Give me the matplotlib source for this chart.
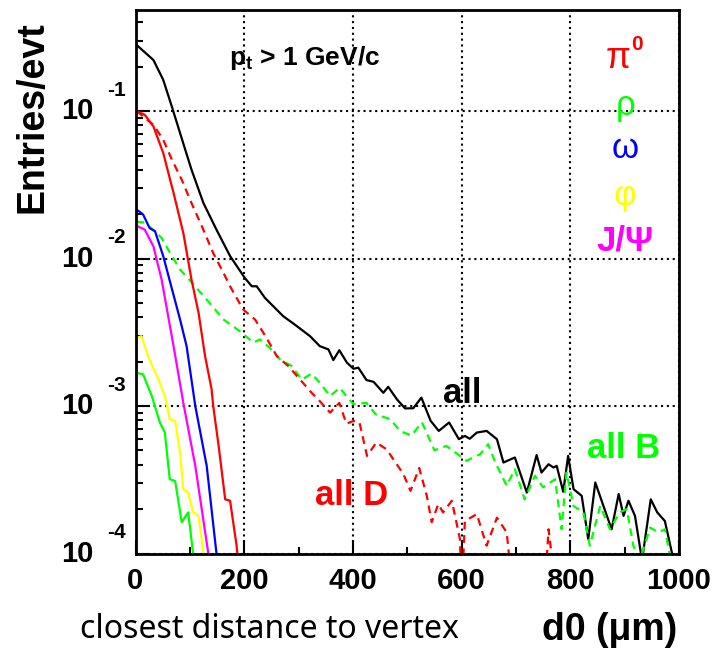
import matplotlib
matplotlib.use('Agg')
import matplotlib.pyplot as plt
import matplotlib.transforms as mtransforms
from matplotlib.ticker import FixedLocator, MultipleLocator, NullFormatter, LogLocator

# ---- data (d0 in um, entries/evt) ----
all_x = [2, 33, 51, 67, 82, 103, 125, 149, 174, 201, 214, 223, 238, 272, 293, 321, 339, 355,
         364, 375, 389, 401, 410, 425, 438, 456, 465, 481, 496, 511, 526, 543, 558, 577, 595,
         606, 615, 628, 646, 665, 677, 698, 720, 738, 747, 760, 769, 775, 787, 796, 806, 821,
         833, 846, 861, 876, 889, 898, 907, 919, 932, 948, 960, 974, 990, 1000]
all_y = [0.281, 0.222, 0.163, 0.107, 0.0710, 0.0401, 0.0238, 0.0157, 0.0104, 7.40e-3, 6.49e-3,
         6.49e-3, 5.42e-3, 4.06e-3, 3.57e-3, 2.98e-3, 2.55e-3, 2.42e-3, 2.05e-3, 2.39e-3,
         1.97e-3, 1.79e-3, 1.82e-3, 1.50e-3, 1.46e-3, 1.23e-3, 1.35e-3, 1.11e-3, 9.64e-4,
         9.66e-4, 1.14e-3, 7.94e-4, 6.78e-4, 7.73e-4, 5.96e-4, 6.27e-4, 6.00e-4, 6.61e-4,
         6.78e-4, 5.96e-4, 4.14e-4, 4.48e-4, 2.59e-4, 4.65e-4, 3.54e-4, 4.03e-4, 3.83e-4,
         3.93e-4, 2.62e-4, 4.59e-4, 2.73e-4, 2.46e-4, 1.25e-4, 3.03e-4, 2.10e-4, 1.46e-4,
         2.53e-4, 1.80e-4, 2.28e-4, 1.80e-4, 9.0e-5, 2.33e-4, 1.90e-4, 1.66e-4, 9.0e-5, 8.0e-5]

allB_x = [2, 14, 33, 48, 67, 82, 103, 131, 162, 192, 217, 229, 247, 266, 287, 306, 324, 339,
          358, 376, 390, 401, 425, 442, 469, 487, 508, 527, 550, 572, 597, 609, 634, 649, 662,
          683, 698, 716, 735, 750, 772, 784, 793, 806, 824, 836, 855, 873, 891, 904, 916, 928,
          947, 962, 974, 985, 1000]
allB_y = [0.0178, 0.0176, 0.0157, 0.0138, 0.0104, 8.43e-3, 6.92e-3, 5.27e-3, 3.86e-3, 3.22e-3,
          2.69e-3, 2.83e-3, 2.48e-3, 2.07e-3, 1.87e-3, 1.51e-3, 1.66e-3, 1.44e-3, 1.17e-3,
          1.33e-3, 1.14e-3, 1.03e-3, 1.05e-3, 8.79e-4, 8.13e-4, 6.76e-4, 6.31e-4, 7.76e-4,
          5.01e-4, 5.36e-4, 4.59e-4, 4.25e-4, 4.71e-4, 5.51e-4, 4.14e-4, 2.88e-4, 3.73e-4,
          2.33e-4, 3.37e-4, 2.81e-4, 3.19e-4, 1.46e-4, 3.54e-4, 2.10e-4, 1.90e-4, 1.13e-4,
          2.10e-4, 1.46e-4, 1.90e-4, 2.00e-4, 1.13e-4, 9.0e-5, 1.50e-4, 1.39e-4, 1.46e-4,
          9.0e-5, 8.0e-5]

allD_x = [2, 33, 51, 67, 85, 103, 122, 143, 165, 174, 198, 220, 241, 260, 281, 303, 324, 339,
          358, 375, 388, 401, 412, 426, 443, 462, 493, 506, 522, 536, 545, 557, 566, 582, 597,
          600, 606, 628, 646, 665, 683, 695, 752, 760, 775, 1000]
allD_y = [0.100, 0.0807, 0.0640, 0.0468, 0.0343, 0.0238, 0.0166, 0.0109, 7.59e-3, 6.49e-3,
          4.52e-3, 3.86e-3, 2.90e-3, 2.18e-3, 1.87e-3, 1.51e-3, 1.23e-3, 1.08e-3, 9.02e-4,
          1.05e-3, 7.59e-4, 7.92e-4, 7.76e-4, 4.59e-4, 5.65e-4, 5.09e-4, 3.45e-4, 2.66e-4,
          3.80e-4, 2.46e-4, 1.63e-4, 2.16e-4, 1.90e-4, 2.28e-4, 1.25e-4, 5.0e-5, 1.66e-4,
          1.85e-4, 1.13e-4, 1.75e-4, 1.39e-4, 5.0e-5, 5.0e-5, 1.46e-4, 5.0e-5, 5.0e-5]

pi0_x = [2, 17, 33, 51, 70, 88, 103, 116, 128, 140, 143, 153, 165, 174, 186, 195]
pi0_y = [0.100, 0.0944, 0.0787, 0.0520, 0.0279, 0.0149, 7.21e-3, 4.29e-3, 2.18e-3, 1.30e-3,
         1.00e-3, 5.36e-4, 2.33e-4, 2.28e-4, 1.13e-4, 5.0e-5]

omega_x = [2, 14, 26, 36, 51, 63, 82, 94, 110, 131, 149, 155]
omega_y = [0.0215, 0.0199, 0.0161, 0.0153, 0.0104, 7.08e-3, 3.86e-3, 2.55e-3, 1.00e-3,
           3.93e-4, 1.0e-4, 5.0e-5]

jpsi_x = [2, 17, 33, 48, 70, 88, 110, 134, 140]
jpsi_y = [0.0167, 0.0157, 0.0121, 7.21e-3, 2.55e-3, 1.05e-3, 3.93e-4, 1.0e-4, 5.0e-5]

phi_x = [2, 11, 24, 42, 54, 63, 73, 82, 88, 97, 106, 116, 125, 130]
phi_y = [2.90e-3, 2.98e-3, 2.13e-3, 1.52e-3, 1.17e-3, 8.13e-4, 7.92e-4, 4.83e-4, 2.73e-4,
         2.59e-4, 1.90e-4, 1.80e-4, 1.0e-4, 5.0e-5]

rho_x = [2, 14, 30, 45, 54, 63, 73, 85, 97, 106, 110]
rho_y = [1.68e-3, 1.64e-3, 1.17e-3, 7.71e-4, 6.61e-4, 3.19e-4, 3.10e-4, 1.63e-4, 1.90e-4,
         1.0e-4, 5.0e-5]

x_ticks = [0, 200, 400, 600, 800, 1000]
decades = [-1, -2, -3, -4]

plt.rcParams['font.family'] = ['Liberation Sans', 'DejaVu Sans']
plt.rcParams['mathtext.fontset'] = 'custom'
plt.rcParams['mathtext.bf'] = 'Liberation Sans:bold'
plt.rcParams['mathtext.rm'] = 'Liberation Sans'

fig = plt.figure(figsize=(7.17, 6.55), dpi=100)
ax = fig.add_axes([135.5 / 717, 101.5 / 655, 543.5 / 717, 543.5 / 655])

lw = 1.6
dash = (0, (3.5, 2.5))
ax.plot(all_x, all_y, color='black', lw=lw)
ax.plot(allB_x, allB_y, color='#00ff00', lw=lw, ls=dash)
ax.plot(allD_x, allD_y, color='#ff0000', lw=lw, ls=dash)
ax.plot(pi0_x, pi0_y, color='#ff0000', lw=lw)
ax.plot(omega_x, omega_y, color='#0000ff', lw=lw)
ax.plot(jpsi_x, jpsi_y, color='#ff00ff', lw=lw)
ax.plot(phi_x, phi_y, color='#ffff00', lw=lw)
ax.plot(rho_x, rho_y, color='#00ff00', lw=lw)

ax.set_yscale('log')
ax.set_xlim(0, 1000)
ax.set_ylim(1e-4, 0.485)

ax.xaxis.set_major_locator(FixedLocator(x_ticks))
ax.xaxis.set_minor_locator(MultipleLocator(100))
ax.yaxis.set_major_locator(LogLocator(base=10, numticks=10))
ax.yaxis.set_minor_locator(LogLocator(base=10, subs=range(2, 10), numticks=20))
ax.yaxis.set_major_formatter(NullFormatter())
ax.yaxis.set_minor_formatter(NullFormatter())
ax.tick_params(which='both', direction='in', top=False, right=False, width=1.5)
ax.tick_params(which='major', length=10)
ax.tick_params(which='minor', length=5)
ax.tick_params(axis='x', which='major', labelsize=21, pad=10)
for lab in ax.get_xticklabels():
    lab.set_fontweight('bold')

for sp in ax.spines.values():
    sp.set_linewidth(2)

ax.grid(True, which='major', color='black', ls=(0, (1, 1.8)), lw=1.5)

# ROOT style y labels: 10 with exponent up right
blend = mtransforms.blended_transform_factory(ax.transAxes, ax.transData)
for d in decades:
    ax.annotate('10', xy=(0, 10.0 ** d), xycoords=blend, xytext=(-30, 0),
                textcoords='offset points', ha='right', va='center',
                fontsize=21, fontweight='bold', annotation_clip=False)
    ax.annotate('-%d' % abs(d), xy=(0, 10.0 ** d), xycoords=blend, xytext=(-7, 15),
                textcoords='offset points', ha='right', va='center',
                fontsize=15, fontweight='bold', annotation_clip=False)

# labels in the frame
ax.text(0.312, 0.899, r'$\mathbf{p_t}$ > 1 GeV/c', transform=ax.transAxes, ha='center',
        va='baseline', fontsize=19, fontweight='bold')
ax.text(0.888, 0.893, 'π', transform=ax.transAxes, ha='center', va='baseline',
        fontsize=26, color='#ff0000')
ax.text(0.922, 0.926, '0', transform=ax.transAxes, ha='center', va='baseline',
        fontsize=15, fontweight='bold', color='#ff0000')
ax.text(0.901, 0.807, 'ρ', transform=ax.transAxes, ha='center', va='baseline',
        fontsize=25, color='#00ff00')
ax.text(0.901, 0.728, 'ω', transform=ax.transAxes, ha='center', va='baseline',
        fontsize=25, color='#0000ff')
ax.text(0.901, 0.641, 'φ', transform=ax.transAxes, ha='center', va='baseline',
        fontsize=25, color='#ffff00')
ax.text(0.901, 0.558, 'J/Ψ', transform=ax.transAxes, ha='center', va='baseline',
        fontsize=25, fontweight='bold', color='#ff00ff')

ax.text(0.601, 0.277, 'all', transform=ax.transAxes, ha='center', va='baseline',
        fontsize=25, fontweight='bold', color='black')
ax.text(0.898, 0.176, 'all B', transform=ax.transAxes, ha='center', va='baseline',
        fontsize=25, fontweight='bold', color='#00ff00')
ax.text(0.397, 0.089, 'all D', transform=ax.transAxes, ha='center', va='baseline',
        fontsize=25, fontweight='bold', color='#ff0000')

fig.text(33 / 717, 1 - 117 / 655, 'Entries/evt', rotation=90, ha='center', va='center',
         fontsize=27, fontweight='bold')
fig.text(677 / 717, 1 - 630 / 655, 'd0 (μm)', ha='right', va='center',
         fontsize=27, fontweight='bold')
fig.text(80 / 717, 1 - 629 / 655, 'closest distance to vertex', ha='left', va='center',
         fontsize=23, family='Noto Sans')

fig.savefig('out.png', dpi=100)
